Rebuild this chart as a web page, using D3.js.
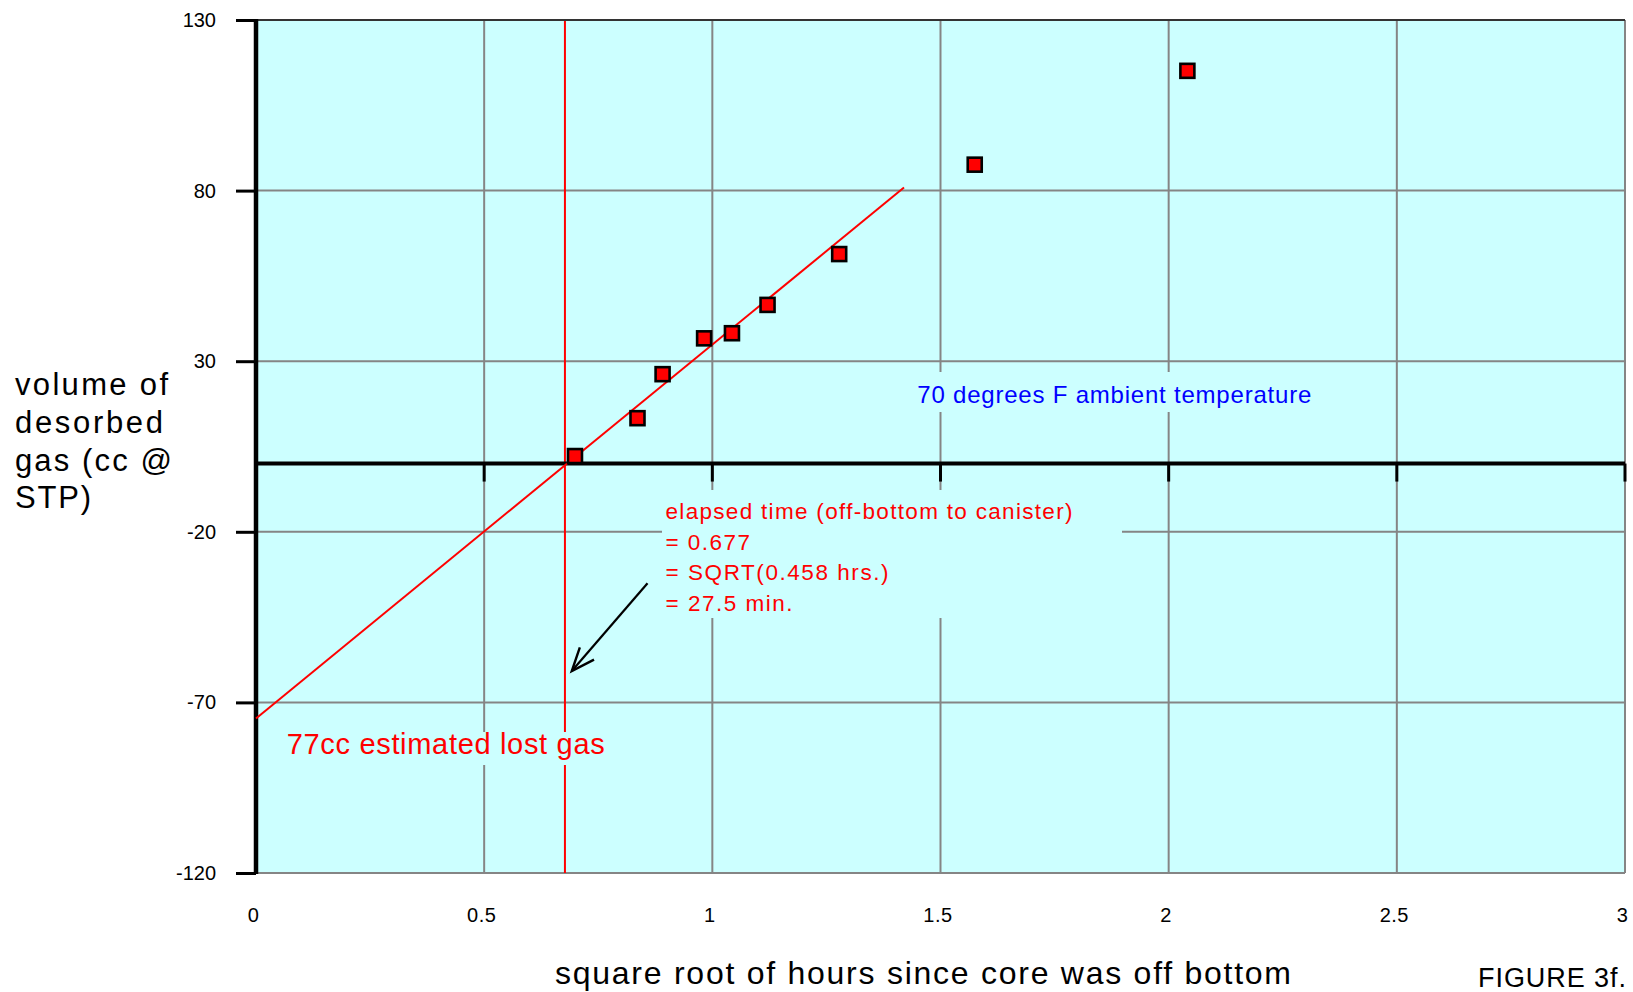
<!DOCTYPE html>
<html>
<head>
<meta charset="utf-8">
<script src="https://cdn.jsdelivr.net/npm/d3@7"></script>
<style>
  html, body { margin: 0; padding: 0; background: #ffffff; }
  svg { display: block; font-family: "Liberation Sans", Arial, Helvetica, sans-serif; }
</style>
</head>
<body>
<svg id="chart" width="1633" height="992"></svg>
<script>
// ---- data ----
const pointX = [0.699, 0.836, 0.891, 0.982, 1.043, 1.121, 1.278, 1.575, 2.041];
const pointY = [2.2, 13.3, 26.2, 36.7, 38.2, 46.5, 61.4, 87.6, 115.1];
const fitX = [0, 1.42];
const fitY = [-74.7, 80.9];
const elapsedX = 0.677;
const xTicks = [0, 0.5, 1, 1.5, 2, 2.5, 3];
const xTickLabels = ["0", "0.5", "1", "1.5", "2", "2.5", "3"];
const yTicks = [-120, -70, -20, 30, 80, 130];
const yTickLabels = ["-120", "-70", "-20", "30", "80", "130"];
const yTitleLines = ["volume of", "desorbed", "gas (cc @", "STP)"];
const xTitle = "square root of hours since core was off bottom";
const elapsedLines = ["elapsed time (off-bottom to canister)", "= 0.677", "= SQRT(0.458 hrs.)", "= 27.5 min."];
const tempNote = "70 degrees F ambient temperature";
const lostNote = "77cc estimated lost gas";
const figureLabel = "FIGURE 3f.";
const arrowFrom = [0.858, -35.1];
const arrowTo = [0.692, -60.8];

// ---- layout ----
const L = 256, R = 1625, T = 20, B = 873;
const bg = "#ccffff";
const gridColor = "#858585";

const svg = d3.select("#chart");
const x = d3.scaleLinear().domain([0, 3]).range([L, R]);
const y = d3.scaleLinear().domain([-120, 130]).range([B, T]);

svg.append("rect").attr("x", 0).attr("y", 0).attr("width", 1633).attr("height", 992).attr("fill", "#fff");
svg.append("rect").attr("x", L).attr("y", T).attr("width", R - L).attr("height", B - T).attr("fill", bg);

// gridlines
const grid = svg.append("g").attr("stroke", gridColor).attr("stroke-width", 2);
grid.selectAll("line.h").data(yTicks).join("line").attr("class", "h")
  .attr("x1", L).attr("x2", R).attr("y1", d => y(d)).attr("y2", d => y(d));
grid.selectAll("line.v").data(xTicks.filter(d => d > 0)).join("line").attr("class", "v")
  .attr("x1", d => x(d)).attr("x2", d => x(d)).attr("y1", T).attr("y2", B);

// red vertical elapsed-time line
svg.append("line").attr("x1", x(elapsedX)).attr("x2", x(elapsedX)).attr("y1", T).attr("y2", B)
  .attr("stroke", "#ff0000").attr("stroke-width", 2);

// cover boxes behind annotations
const boxes = [[662, 490, 460, 128], [905, 372, 415, 40], [280, 732, 332, 33]];
svg.selectAll("rect.cover").data(boxes).join("rect").attr("class", "cover")
  .attr("x", d => d[0]).attr("y", d => d[1]).attr("width", d => d[2]).attr("height", d => d[3])
  .attr("fill", bg);

// top border
svg.append("line").attr("x1", L).attr("x2", R).attr("y1", T).attr("y2", T)
  .attr("stroke", "#333").attr("stroke-width", 2);

// left axis
const yAxis = d3.axisLeft(y).tickValues(yTicks).tickFormat((d, i) => yTickLabels[i])
  .tickSize(20).tickPadding(20);
const yg = svg.append("g").attr("transform", `translate(${L},0)`).call(yAxis);
yg.select(".domain").remove();
yg.selectAll(".tick line").attr("stroke", "#000").attr("stroke-width", 3);
yg.selectAll(".tick text").attr("font-size", 20).attr("fill", "#000")
  .attr("font-family", "Liberation Sans, Arial, sans-serif");
svg.append("line").attr("x1", L).attr("x2", L).attr("y1", T - 1).attr("y2", B + 1)
  .attr("stroke", "#000").attr("stroke-width", 4.5);

// bottom labels
const xAxis = d3.axisBottom(x).tickValues(xTicks).tickFormat((d, i) => xTickLabels[i])
  .tickSize(0).tickPadding(35);
const xg = svg.append("g").attr("transform", `translate(-3,${B})`).call(xAxis);
xg.select(".domain").remove();
xg.selectAll(".tick text").attr("font-size", 20).attr("fill", "#000")
  .attr("font-family", "Liberation Sans, Arial, sans-serif").attr("letter-spacing", 0.5);

// zero line with downward ticks
svg.append("line").attr("x1", L).attr("x2", R).attr("y1", y(0)).attr("y2", y(0))
  .attr("stroke", "#000").attr("stroke-width", 4);
svg.selectAll("line.ztick").data(xTicks.filter(d => d > 0)).join("line").attr("class", "ztick")
  .attr("x1", d => x(d)).attr("x2", d => x(d)).attr("y1", y(0)).attr("y2", y(0) + 18)
  .attr("stroke", "#000").attr("stroke-width", 3);

// regression line
const line = d3.line().x(d => x(d[0])).y(d => y(d[1]));
svg.append("path").datum(fitX.map((d, i) => [d, fitY[i]])).attr("d", line)
  .attr("fill", "none").attr("stroke", "#ff0000").attr("stroke-width", 2);

// points
const ms = 14;
svg.selectAll("rect.pt").data(pointX.map((d, i) => [d, pointY[i]])).join("rect").attr("class", "pt")
  .attr("x", d => x(d[0]) - ms / 2).attr("y", d => y(d[1]) - ms / 2)
  .attr("width", ms).attr("height", ms)
  .attr("fill", "#ff0000").attr("stroke", "#000").attr("stroke-width", 2.6);

// annotations
svg.append("g").selectAll("text").data(elapsedLines).join("text")
  .attr("x", 665.5).attr("y", (d, i) => 519 + i * 30.5)
  .attr("font-size", 22.5).attr("fill", "#ff0000")
  .attr("textLength", (d, i) => [407, 84.5, 223, 127][i]).attr("lengthAdjust", "spacing")
  .text(d => d);

svg.append("text").attr("x", 917.3).attr("y", 402.7).attr("font-size", 24).attr("fill", "#0000ff")
  .attr("textLength", 394).attr("lengthAdjust", "spacing").text(tempNote);

svg.append("text").attr("x", 286.7).attr("y", 754.3).attr("font-size", 29).attr("fill", "#ff0000")
  .attr("textLength", 318).attr("lengthAdjust", "spacing").text(lostNote);

// arrow
const ax1 = x(arrowFrom[0]), ay1 = y(arrowFrom[1]), ax2 = x(arrowTo[0]), ay2 = y(arrowTo[1]);
svg.append("line").attr("x1", ax1).attr("y1", ay1).attr("x2", ax2).attr("y2", ay2)
  .attr("stroke", "#000").attr("stroke-width", 2.2);
const ang = Math.atan2(ay1 - ay2, ax1 - ax2);
const hl = 25, ha = 22 * Math.PI / 180;
const barb = a => [ax2 + hl * Math.cos(a), ay2 + hl * Math.sin(a)];
const b1 = barb(ang - ha), b2 = barb(ang + ha);
svg.append("path").attr("d", `M${b1[0]},${b1[1]}L${ax2},${ay2}L${b2[0]},${b2[1]}`)
  .attr("fill", "none").attr("stroke", "#000").attr("stroke-width", 2.4);

// axis titles
svg.append("g").selectAll("text").data(yTitleLines).join("text")
  .attr("x", 15).attr("y", (d, i) => 395 + i * 37.8)
  .attr("font-size", 31).attr("fill", "#000")
  .attr("textLength", (d, i) => [153, 148, 157, 76][i]).attr("lengthAdjust", "spacing")
  .text(d => d);

svg.append("text").attr("x", 555).attr("y", 984).attr("font-size", 32).attr("fill", "#000")
  .attr("textLength", 736).attr("lengthAdjust", "spacing").text(xTitle);

svg.append("text").attr("x", 1478).attr("y", 987).attr("font-size", 27).attr("fill", "#000")
  .attr("textLength", 148).attr("lengthAdjust", "spacing").text(figureLabel);
</script>
</body>
</html>
